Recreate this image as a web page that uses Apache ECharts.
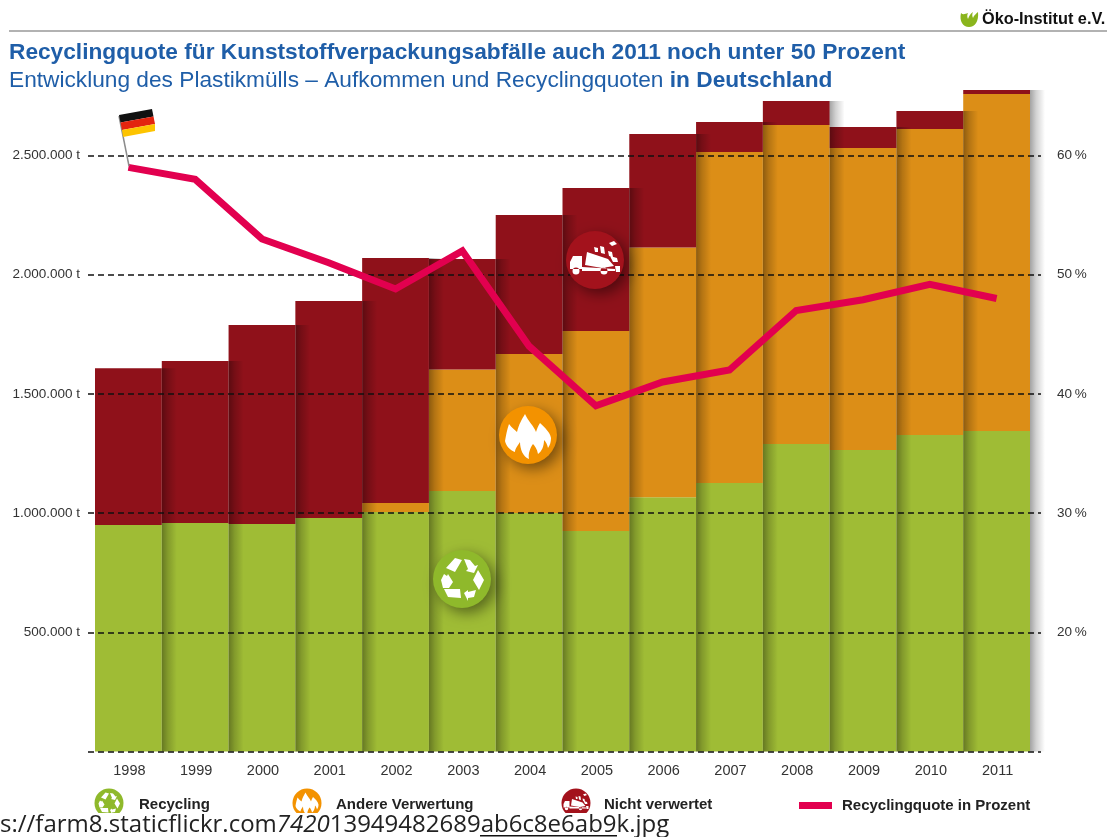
<!DOCTYPE html>
<html>
<head>
<meta charset="utf-8">
<title>Recyclingquote</title>
<script src="https://cdn.jsdelivr.net/npm/echarts@6/dist/echarts.min.js"></script>
<style>
  html, body { margin: 0; padding: 0; background: #fff; }
  #chart01 { width: 1113px; height: 837px; }
</style>
</head>
<body>
<div id="chart01"></div>
<script>
// Daten
var years = ["1998", "1999", "2000", "2001", "2002", "2003", "2004", "2005", "2006", "2007", "2008", "2009", "2010", "2011"];
var recycling = [950000, 958000, 954000, 979000, 1005000, 1093000, 1000000, 925000, 1067000, 1126000, 1290000, 1265000, 1328000, 1344000];
var andere = [0, 0, 0, 0, 37000, 509000, 667000, 839000, 1047000, 1389000, 1338000, 1266000, 1283000, 1414000];
var nicht = [658000, 680000, 835000, 911000, 1028000, 464000, 583000, 600000, 476000, 125000, 101000, 89000, 76000, 17000];
var quote = [59, 58, 53, 51, 48.8, 52, 44, 39, 41, 42, 47, 47.9, 49.2, 48];
var leftTicks = { 500000: "500.000 t", 1000000: "1.000.000 t", 1500000: "1.500.000 t", 2000000: "2.000.000 t", 2500000: "2.500.000 t" };

var GREEN = "#9fbc35", ORANGE = "#dc8e17", RED = "#8f111a", PINK = "#e2004f", BLUE = "#1f5ea8";
var FONT = '"Liberation Sans", Arial, sans-serif';

// Schatten rechts neben jeder Saeule
var totals = years.map(function (y, i) { return [i, recycling[i] + andere[i] + nicht[i]]; });
function renderShadow(params, api) {
    var band = api.size([1, 0])[0];
    var top = api.coord([api.value(0), api.value(1)]);
    var bottom = api.coord([api.value(0), 0]);
    return {
        type: "rect",
        shape: { x: top[0] + band / 2, y: top[1], width: 15, height: bottom[1] - top[1] },
        style: {
            fill: new echarts.graphic.LinearGradient(0, 0, 1, 0, [
                { offset: 0, color: "rgba(0,0,0,0.36)" },
                { offset: 0.4, color: "rgba(0,0,0,0.18)" },
                { offset: 1, color: "rgba(0,0,0,0)" }
            ])
        }
    };
}

// Icons, um (0,0) gezeichnet
var FLAME = "M-23,6 C-22,0 -21,-5 -19,-11 C-16,-7 -13,-5 -11,-3 C-9,-11 -6,-16 -3,-21 C0,-14 6,-9 8,-3 C9,-6 10,-9 12,-12 C17,-7 22,-3 23,3 C23,7 22,10 20,13 C19,9 18,7 16,5 C16,11 14,16 10,19 C9,14 7,11 5,9 C2,13 0,19 1,24 C-5,22 -8,14 -8,7 C-10,10 -13,14 -13,17 C-18,15 -22,11 -23,6 Z";
var RECYCLE = "M-16,-11 L-7,-21 L0,-19 L-7,-7 Z M2,-20 L8,-19 L13,-13 L16,-14 L12,-6 L4,-8 L6,-10 Z M16,-9 L22,1 L17,11 L11,1 Z M-21,1 L-18,-5 L-15,-3 L-14,-5 L-9,3 L-13,9 L-19,9 Z M-18,10 L-2,10 L-1,19 L-14,18 Z M2,14 L6,11 L6,13 L14,11 L12,18 L6,19 L6,22 Z";
var TRUCK = "M-25,9 L-25,2 L-22,-4 L-13,-4 L-13,9 Z M-8,-8 L13,-1 L19,6 L7,8 L-10,5 Z M-13,7 L20,9 L20,11 L-13,11 Z M-22.5,11 A3.5,3.5 0 1 0 -15.5,11 A3.5,3.5 0 1 0 -22.5,11 Z M5.5,11 A3.5,3.5 0 1 0 12.5,11 A3.5,3.5 0 1 0 5.5,11 Z M-1,-13 L3,-12 L3,-8 L0,-8 Z M5,-14 L9,-13 L10,-6 L6,-7 Z M13,-9 L17,-8 L18,-3 L14,-4 Z M15,-4 L22,-2 L23,2 L18,2 Z M20,6 L25,6 L25,12 L21,12 Z M14,-17 L19,-19 L22,-16 L17,-14 Z";
var LEAF = "M961,13 C959,21 963,27 969,27 C975,27 979,21 978,12 C976,14 974,15 973,18 C972,16 972,14 973,12 C970,14 969,16 968,19 C967,17 967,15 968,13 C965,14 963,15 961,13 Z";
echarts.graphic.registerShape("flame", echarts.graphic.extendPath(FLAME, {}));
echarts.graphic.registerShape("recycle", echarts.graphic.extendPath(RECYCLE, {}));
echarts.graphic.registerShape("truck", echarts.graphic.extendPath(TRUCK, {}));
echarts.graphic.registerShape("leaf", echarts.graphic.extendPath(LEAF, {}));

function badge(cx, cy, r, color, glyph, withShadow) {
    var scale = r / 29;
    return {
        type: "group", x: cx, y: cy,
        children: [
            { type: "circle", shape: { r: r }, z: 50, style: withShadow ?
                { fill: color, shadowBlur: 14, shadowOffsetX: 5, shadowOffsetY: 5, shadowColor: "rgba(0,0,0,0.45)" } : { fill: color } },
            { type: glyph, scaleX: scale, scaleY: scale, z: 51, style: { fill: "#fff" } }
        ]
    };
}

var graphicElements = [
    // Linie oben und Logo
    { type: "rect", z: 5, shape: { x: 9, y: 30, width: 1098, height: 2 }, style: { fill: "#b2b2b2" } },
    { type: "leaf", z: 5, style: { fill: "#8ab51d" } },
    { type: "text", z: 5, x: 982, y: 20, style: { text: "Öko-Institut e.V.", font: 'bold 16.3px "Liberation Sans", sans-serif', fill: "#111", textVerticalAlign: "middle" } },
    // Fahne
    { type: "line", z: 25, shape: { x1: 119, y1: 116, x2: 129, y2: 166 }, style: { stroke: "#8c8c8c", lineWidth: 1.5 } },
    { type: "polygon", z: 26, shape: { points: [[119, 115], [152, 109], [153.5, 116.5], [120.5, 122.5]] }, style: { fill: "#111" } },
    { type: "polygon", z: 26, shape: { points: [[120.5, 122.5], [153.5, 116.5], [155, 124], [122, 130]] }, style: { fill: "#e3240f" } },
    { type: "polygon", z: 26, shape: { points: [[122, 130], [155, 124], [155, 131], [123, 137]] }, style: { fill: "#fdc400" } },
    // Icons im Diagramm
    badge(595, 260, 29, "#a3121c", "truck", true),
    badge(528, 435, 29, "#f39200", "flame", true),
    badge(462, 579, 29, "#8fb92b", "recycle", true),
    // Icons der Legende
    badge(109, 803, 14.5, "#8fb92b", "recycle", false),
    badge(307, 803, 14.5, "#f39200", "flame", false),
    badge(576, 803, 14.5, "#a3121c", "truck", false),
    // weisser Streifen unten mit der Quelle
    { type: "rect", z: 100, shape: { x: 0, y: 813, width: 1113, height: 24 }, style: { fill: "#fff" } },
    { type: "text", z: 101, x: 0, y: 825, style: {
        text: "{a|s://farm8.staticflickr.com}{i|7420}{a|13949482689}{a|ab6c8e6ab9}{a|k.jpg}",
        textVerticalAlign: "middle",
        rich: {
            a: { font: '24px "Open Sans", "Noto Sans", sans-serif', fill: "#222" },
            i: { font: 'italic 24px "Open Sans", "Noto Sans", sans-serif', fill: "#222" }
        }
    } },
    { type: "rect", z: 101, shape: { x: 480, y: 835, width: 137, height: 1.5 }, style: { fill: "#111" } }
];

function legendAt(name, left, textLeft) {
    return {
        data: [name], left: left, top: 797, selectedMode: false, itemWidth: 33, itemHeight: 7,
        icon: "rect", itemGap: 0, padding: 0,
        textStyle: { fontFamily: FONT, fontWeight: "bold", fontSize: 15, color: "#222", padding: [0, 0, 0, textLeft] },
        itemStyle: { opacity: 0 }, lineStyle: { opacity: 0 }
    };
}

// 基于准备好的dom，初始化echarts图表
var myChart01 = echarts.init(document.getElementById("chart01"));
var option = {
    animation: false,
    backgroundColor: "#fff",
    title: [
        {
            text: "Recyclingquote für Kunststoffverpackungsabfälle auch 2011 noch unter 50 Prozent",
            left: 9, top: 41, padding: 0,
            textStyle: { fontFamily: FONT, fontSize: 22.7, fontWeight: "bold", color: BLUE }
        },
        {
            text: "{n|Entwicklung des Plastikmülls – Aufkommen und Recyclingquoten }{b|in Deutschland}",
            left: 9, top: 69, padding: 0,
            textStyle: {
                rich: {
                    n: { fontFamily: FONT, fontSize: 22.7, fontWeight: "normal", color: BLUE },
                    b: { fontFamily: FONT, fontSize: 22.7, fontWeight: "bold", color: BLUE }
                }
            }
        }
    ],
    legend: [
        legendAt("Recycling", 95, 6),
        legendAt("Andere Verwertung", 293, 5),
        legendAt("Nicht verwertet", 562, 4),
        {
            data: ["Recyclingquote in Prozent"], left: 799, top: 798, selectedMode: false, padding: 0,
            icon: "rect", itemWidth: 33, itemHeight: 7,
            itemStyle: { color: PINK },
            textStyle: { fontFamily: FONT, fontWeight: "bold", fontSize: 15, color: "#222", padding: [0, 0, 0, 5] }
        }
    ],
    // grid 0: Saeulen, grid 1: etwas breiter fuer die gestrichelten Linien
    grid: [
        { left: 95, top: 36.3, width: 935, height: 715.2 },
        { left: 88, top: 36.3, width: 953, height: 715.2 }
    ],
    xAxis: [
        {
            type: "category", gridIndex: 0, data: years,
            axisLine: { show: false }, axisTick: { show: false },
            axisLabel: { margin: 12, fontFamily: FONT, fontSize: 14.5, color: "#333", interval: 0, padding: [0, 0, 0, 2] }
        },
        { type: "category", gridIndex: 1, data: years, show: false }
    ],
    yAxis: [
        { type: "value", gridIndex: 0, min: 0, max: 3000000, interval: 500000, show: false, splitLine: { show: false } },
        { type: "value", gridIndex: 0, min: 10, max: 70, interval: 10, show: false, splitLine: { show: false } },
        {
            type: "value", gridIndex: 1, position: "left", min: 0, max: 3000000, interval: 500000, z: 10,
            axisLine: { show: false }, axisTick: { show: false },
            axisLabel: {
                margin: 8, fontFamily: FONT, fontSize: 13.5, color: "#333", padding: [2, 0, 0, 0],
                showMinLabel: false, showMaxLabel: false,
                formatter: function (v) { return leftTicks[v] || ""; }
            },
            splitLine: { show: true, showMaxLine: false, lineStyle: { color: "#111", width: 1.5, type: [6, 4] } }
        },
        {
            type: "value", gridIndex: 1, position: "right", min: 10, max: 70, interval: 10,
            axisLine: { show: false }, axisTick: { show: false }, splitLine: { show: false },
            axisLabel: {
                margin: 16, fontFamily: FONT, fontSize: 13.5, color: "#333", padding: [2, 0, 0, 0],
                showMinLabel: false, showMaxLabel: false,
                formatter: function (v) { return v + "\u2009%"; }
            }
        }
    ],
    series: [
        { name: "Recycling", type: "bar", stack: "menge", barWidth: "100%", xAxisIndex: 0, yAxisIndex: 0, z: 2, itemStyle: { color: GREEN }, data: recycling },
        { name: "Andere Verwertung", type: "bar", stack: "menge", barWidth: "100%", xAxisIndex: 0, yAxisIndex: 0, z: 2, itemStyle: { color: ORANGE }, data: andere },
        { name: "Nicht verwertet", type: "bar", stack: "menge", barWidth: "100%", xAxisIndex: 0, yAxisIndex: 0, z: 2, itemStyle: { color: RED }, data: nicht },
        { name: "Schatten", type: "custom", xAxisIndex: 0, yAxisIndex: 0, z: 3, silent: true, renderItem: renderShadow, encode: { x: 0, y: 1 }, data: totals },
        {
            name: "Recyclingquote in Prozent", type: "line", xAxisIndex: 0, yAxisIndex: 1, z: 20,
            symbol: "none", lineStyle: { color: PINK, width: 7, join: "miter" }, itemStyle: { color: PINK },
            data: quote
        }
    ],
    graphic: { elements: graphicElements }
};
// 为echarts对象加载数据
myChart01.setOption(option);
</script>
</body>
</html>
